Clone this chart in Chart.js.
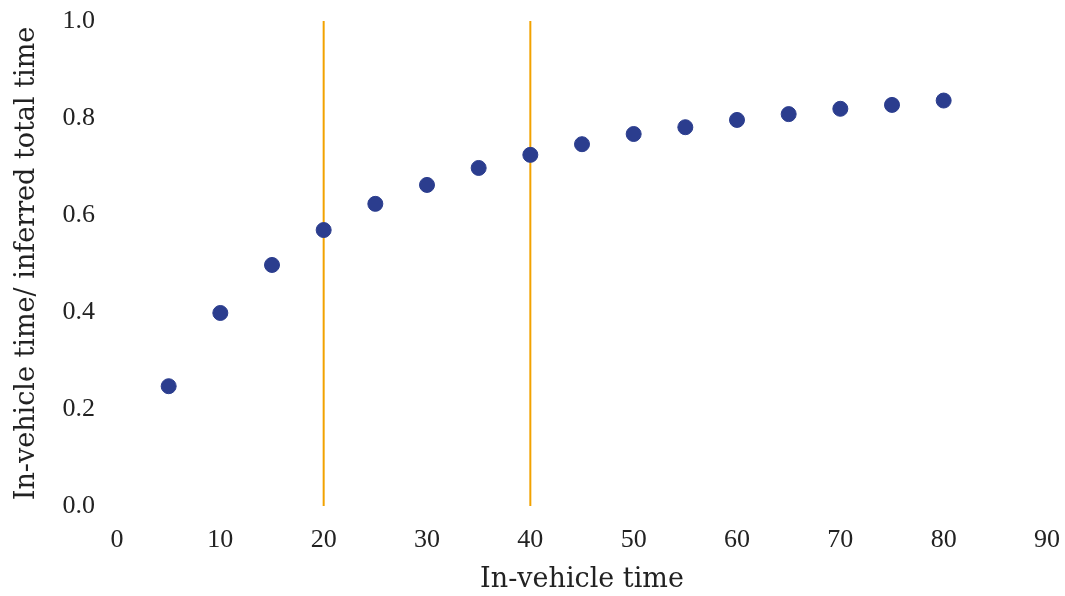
<!DOCTYPE html>
<html>
<head>
<meta charset="utf-8">
<script src="https://cdn.jsdelivr.net/npm/chart.js@4.4.0/dist/chart.umd.min.js"></script>
<style>
  html, body { margin: 0; padding: 0; background: #ffffff; }
  #wrap { width: 1065px; height: 596px; position: relative; }
</style>
</head>
<body>
<div id="wrap"><canvas id="c" width="1065" height="596"></canvas></div>
<script>
const inVehicleTime = [5, 10, 15, 20, 25, 30, 35, 40, 45, 50, 55, 60, 65, 70, 75, 80];
const ratio = [0.247, 0.398, 0.497, 0.569, 0.623, 0.662, 0.697, 0.724, 0.746, 0.767, 0.781, 0.796, 0.808, 0.819, 0.827, 0.836];
const cutoffs = [20, 40];
const xTicks = [0, 10, 20, 30, 40, 50, 60, 70, 80, 90];
const yTicks = [0.0, 0.2, 0.4, 0.6, 0.8, 1.0];

const serif = "'Liberation Serif', 'DejaVu Serif', serif";
const titleSerif = "'DejaVu Serif', 'Liberation Serif', serif";
const textColor = '#222222';

const datasets = [{
  type: 'scatter',
  label: 'ratio',
  data: inVehicleTime.map((x, i) => ({ x: x, y: ratio[i] })),
  backgroundColor: '#2b3d8e',
  borderColor: '#2b3d8e',
  pointRadius: 7.5,
  pointHoverRadius: 7.5,
  order: 0
}];
cutoffs.forEach(c => {
  datasets.push({
    type: 'line',
    label: 'cutoff ' + c,
    data: [{ x: c, y: yTicks[0] }, { x: c, y: yTicks[yTicks.length - 1] }],
    borderColor: '#f2a200',
    borderWidth: 2,
    pointRadius: 0,
    fill: false,
    order: 1
  });
});

new Chart(document.getElementById('c'), {
  data: { datasets: datasets },
  options: {
    responsive: false,
    animation: false,
    layout: { padding: { left: 0, right: 18, top: 21, bottom: 0 } },
    plugins: { legend: { display: false }, tooltip: { enabled: false } },
    scales: {
      x: {
        type: 'linear',
        min: xTicks[0],
        max: xTicks[xTicks.length - 1],
        afterBuildTicks: (s) => { s.ticks = xTicks.map(v => ({ value: v })); },
        grid: { display: false, drawTicks: false },
        border: { display: false },
        ticks: {
          font: { family: serif, size: 26 },
          color: textColor,
          padding: 19,
          maxRotation: 0,
          callback: (v) => String(v)
        },
        title: {
          display: true,
          text: 'In-vehicle time',
          font: { family: titleSerif, size: 27 },
          color: textColor,
          padding: { top: 6, bottom: 0 }
        },
        afterFit: (s) => { s.height = 90; s.paddingLeft = 0; s.paddingRight = 0; }
      },
      y: {
        type: 'linear',
        min: yTicks[0],
        max: yTicks[yTicks.length - 1],
        afterBuildTicks: (s) => { s.ticks = yTicks.map(v => ({ value: v })); },
        grid: { display: false, drawTicks: false },
        border: { display: false },
        ticks: {
          font: { family: serif, size: 26 },
          color: textColor,
          padding: 22,
          callback: (v) => Number(v).toFixed(1)
        },
        title: {
          display: true,
          text: 'In-vehicle time/ inferred total time',
          font: { family: titleSerif, size: 27 },
          color: textColor,
          padding: { top: 11, bottom: 0 }
        },
        afterFit: (s) => { s.width = 117; s.paddingTop = 0; s.paddingBottom = 0; }
      }
    }
  }
});
</script>
</body>
</html>
